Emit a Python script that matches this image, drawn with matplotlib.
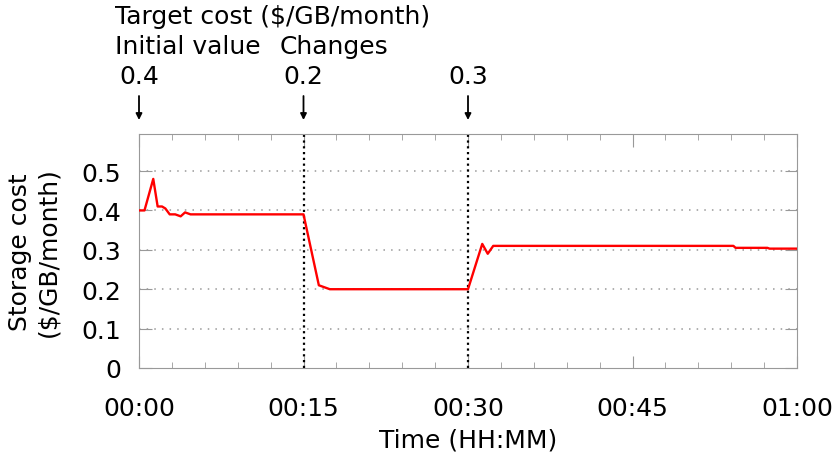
import matplotlib
matplotlib.use("Agg")
import matplotlib.pyplot as plt
import numpy as np

# storage cost trace, time in minutes
minutes = [0, 0.5, 1.3, 1.7, 2.1, 2.4, 2.8, 3.3, 3.8, 4.2, 4.7, 5.1, 15.0,
           16.4, 17.4, 30.0, 31.3, 31.8, 32.3, 32.8, 33.3, 33.8, 54.2, 54.4, 57.3, 57.5, 60.0]
cost = [0.40, 0.40, 0.48, 0.41, 0.41, 0.405, 0.39, 0.39, 0.385, 0.395, 0.39, 0.39, 0.39,
        0.21, 0.20, 0.20, 0.315, 0.29, 0.31, 0.31, 0.31, 0.31, 0.31, 0.305, 0.305, 0.303, 0.303]

change_times = [0, 15, 30]
target_values = ["0.4", "0.2", "0.3"]
xtick_minutes = [0, 15, 30, 45, 60]
xtick_labels = ["00:00", "00:15", "00:30", "00:45", "01:00"]
ytick_values = [0, 0.1, 0.2, 0.3, 0.4, 0.5]
ytick_labels = ["0", "0.1", "0.2", "0.3", "0.4", "0.5"]

plt.rcParams["font.family"] = "DejaVu Sans"
plt.rcParams["font.size"] = 18

fig = plt.figure(figsize=(8.35, 4.64), dpi=100)
ax = fig.add_axes([139 / 835, 1 - 369 / 464, (797 - 139) / 835, (369 - 135) / 464])

ax.set_xlim(0, 60)
ax.set_ylim(0, 0.594)

for y in ytick_values[1:]:
    ax.axhline(y, color="#999999", lw=1.1, ls=(0, (1, 4)), zorder=1)
for t in change_times[1:]:
    ax.axvline(t, color="black", lw=1.6, ls=(0, (1, 1.6)), zorder=2)

ax.plot(minutes, cost, color="red", lw=1.7, zorder=3)

ax.set_xticks(xtick_minutes)
ax.set_xticklabels(xtick_labels)
ax.set_xticks(np.arange(0, 61, 3), minor=True)
ax.set_yticks(ytick_values)
ax.set_yticklabels(ytick_labels)
ax.tick_params(axis="both", which="major", direction="in", length=9, color="#999999",
               top=True, right=True)
ax.tick_params(axis="y", which="major", pad=13)
ax.tick_params(axis="x", which="major", pad=20)
ax.tick_params(axis="x", which="minor", direction="in", length=4, color="#999999", top=True)
for s in ax.spines.values():
    s.set_color("#999999")

ax.set_xlabel("Time (HH:MM)", va="center")
ax.xaxis.set_label_coords(0.5, (369 - 441) / 234)
ax.set_ylabel("Storage cost\n($/GB/month)", va="bottom")
ax.yaxis.set_label_coords((60 - 139) / 658, 0.5)

# target-cost annotations above the plot
xt = ax.get_xaxis_transform()
ax.text(-2.2, (369 - 17) / 234, "Target cost ($/GB/month)", transform=xt,
        ha="left", va="center")
ax.text(-2.2, (369 - 47) / 234, "Initial value", transform=xt, ha="left", va="center")
ax.text(12.8, (369 - 47) / 234, "Changes", transform=xt, ha="left", va="center")
for t, v in zip(change_times, target_values):
    ax.text(t, (369 - 77) / 234, v, transform=xt, ha="center", va="center")
    ax.annotate("", xy=(t, (369 - 121) / 234), xytext=(t, (369 - 97) / 234),
                xycoords=("data", "axes fraction"), textcoords=("data", "axes fraction"),
                arrowprops=dict(arrowstyle="-|>", color="black", lw=1.3,
                                mutation_scale=9, shrinkA=0, shrinkB=0),
                annotation_clip=False)

fig.savefig("out.png", dpi=100)
